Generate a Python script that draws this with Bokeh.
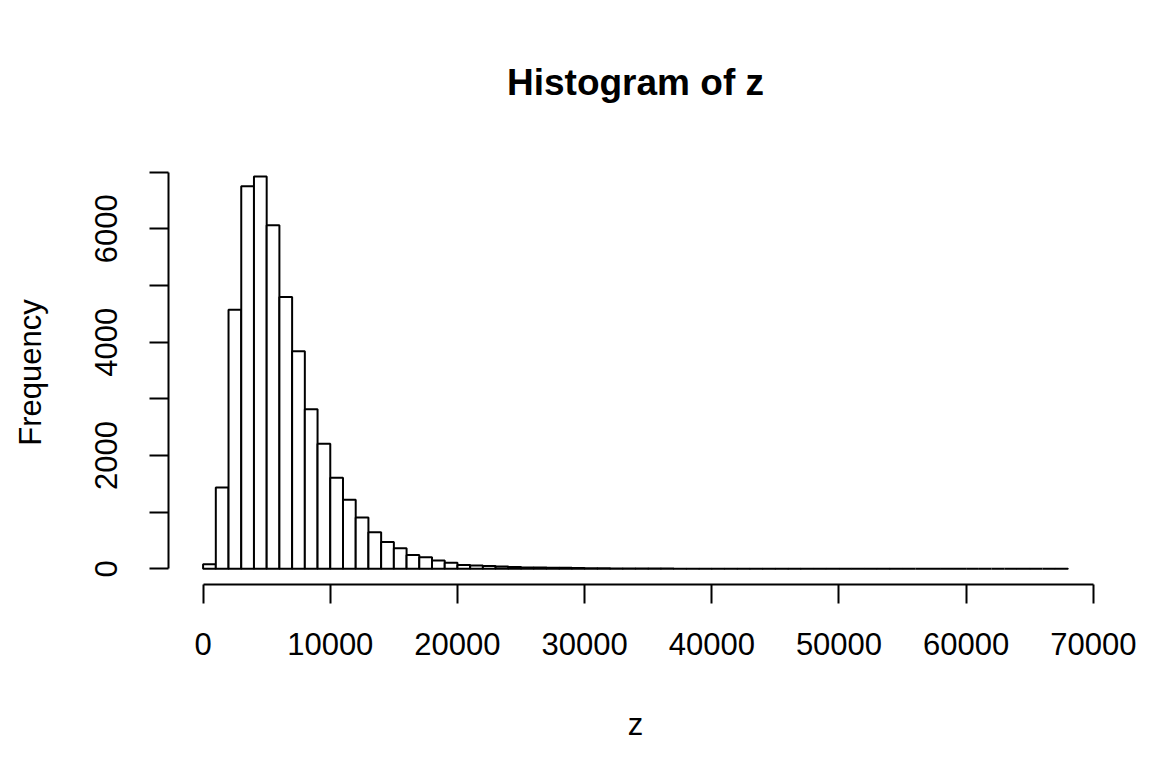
from bokeh.plotting import figure
from bokeh.models import FixedTicker, ColumnDataSource, Range1d
from bokeh.embed import file_html
from bokeh.resources import INLINE

# Histogram of z: bins of width 1000 from 0 to 68000
bin_width = 1000
counts = [80, 1435, 4570, 6750, 6925, 6065, 4795, 3840, 2815, 2205,
          1605, 1220, 905, 645, 475, 362, 244, 203, 145, 106,
          68, 58, 50, 40, 30, 25, 22, 20, 17, 12,
          10, 8, 7, 6, 5, 5, 4, 3, 3, 3,
          2, 2, 2, 1, 1, 1, 1, 1, 0, 1,
          0, 1, 0, 2, 1, 0, 0, 0, 1, 0,
          0, 0, 0, 0, 2, 0, 0, 1]
x_ticks = [0, 10000, 20000, 30000, 40000, 50000, 60000, 70000]
y_ticks = [0, 2000, 4000, 6000]
y_minor = [1000, 3000, 5000, 7000]

lefts = [i * bin_width for i in range(len(counts))]
rights = [l + bin_width for l in lefts]
src = ColumnDataSource(dict(left=lefts, right=rights, top=counts, bottom=[0] * len(counts)))

FONT = "Liberation Sans"

p = figure(width=1145, height=760, output_backend="svg", toolbar_location=None,
           x_range=Range1d(-2720, 70720), y_range=Range1d(-277, 7206),
           min_border_left=168, min_border_right=43, min_border_top=160, min_border_bottom=176,
           title="Histogram of z")
p.quad(left="left", right="right", top="top", bottom="bottom", source=src,
       fill_color="white", line_color="black", line_width=2)

p.grid.visible = False
p.outline_line_color = None
p.background_fill_color = "white"
p.border_fill_color = "white"

p.title.align = "center"
p.title.text_font = FONT
p.title.text_font_size = "37px"
p.title.text_font_style = "bold"
p.title.text_color = "black"
p.title.standoff = 116

for ax in (p.xaxis[0], p.yaxis[0]):
    ax.axis_line_width = 2
    ax.major_tick_line_width = 2
    ax.minor_tick_line_width = 2
    ax.axis_line_color = "black"
    ax.major_tick_line_color = "black"
    ax.minor_tick_line_color = "black"
    ax.major_tick_in = 0
    ax.major_tick_out = 19
    ax.minor_tick_in = 0
    ax.major_label_text_font = FONT
    ax.major_label_text_font_size = "31px"
    ax.major_label_text_color = "black"
    ax.axis_label_text_font = FONT
    ax.axis_label_text_font_size = "31px"
    ax.axis_label_text_font_style = "normal"
    ax.axis_label_text_color = "black"

xa = p.xaxis[0]
xa.ticker = FixedTicker(ticks=x_ticks, minor_ticks=[])
xa.bounds = (0, 70000)
xa.minor_tick_out = 0
xa.major_label_standoff = 29
xa.axis_label = "z"
xa.axis_label_standoff = 49

ya = p.yaxis[0]
ya.ticker = FixedTicker(ticks=y_ticks, minor_ticks=y_minor)
ya.bounds = (0, 7000)
ya.minor_tick_out = 19
ya.major_label_orientation = "vertical"
ya.major_label_standoff = 32
ya.axis_label = "Frequency"
ya.axis_label_standoff = 45

open("out.html", "w").write(file_html(p, INLINE))
